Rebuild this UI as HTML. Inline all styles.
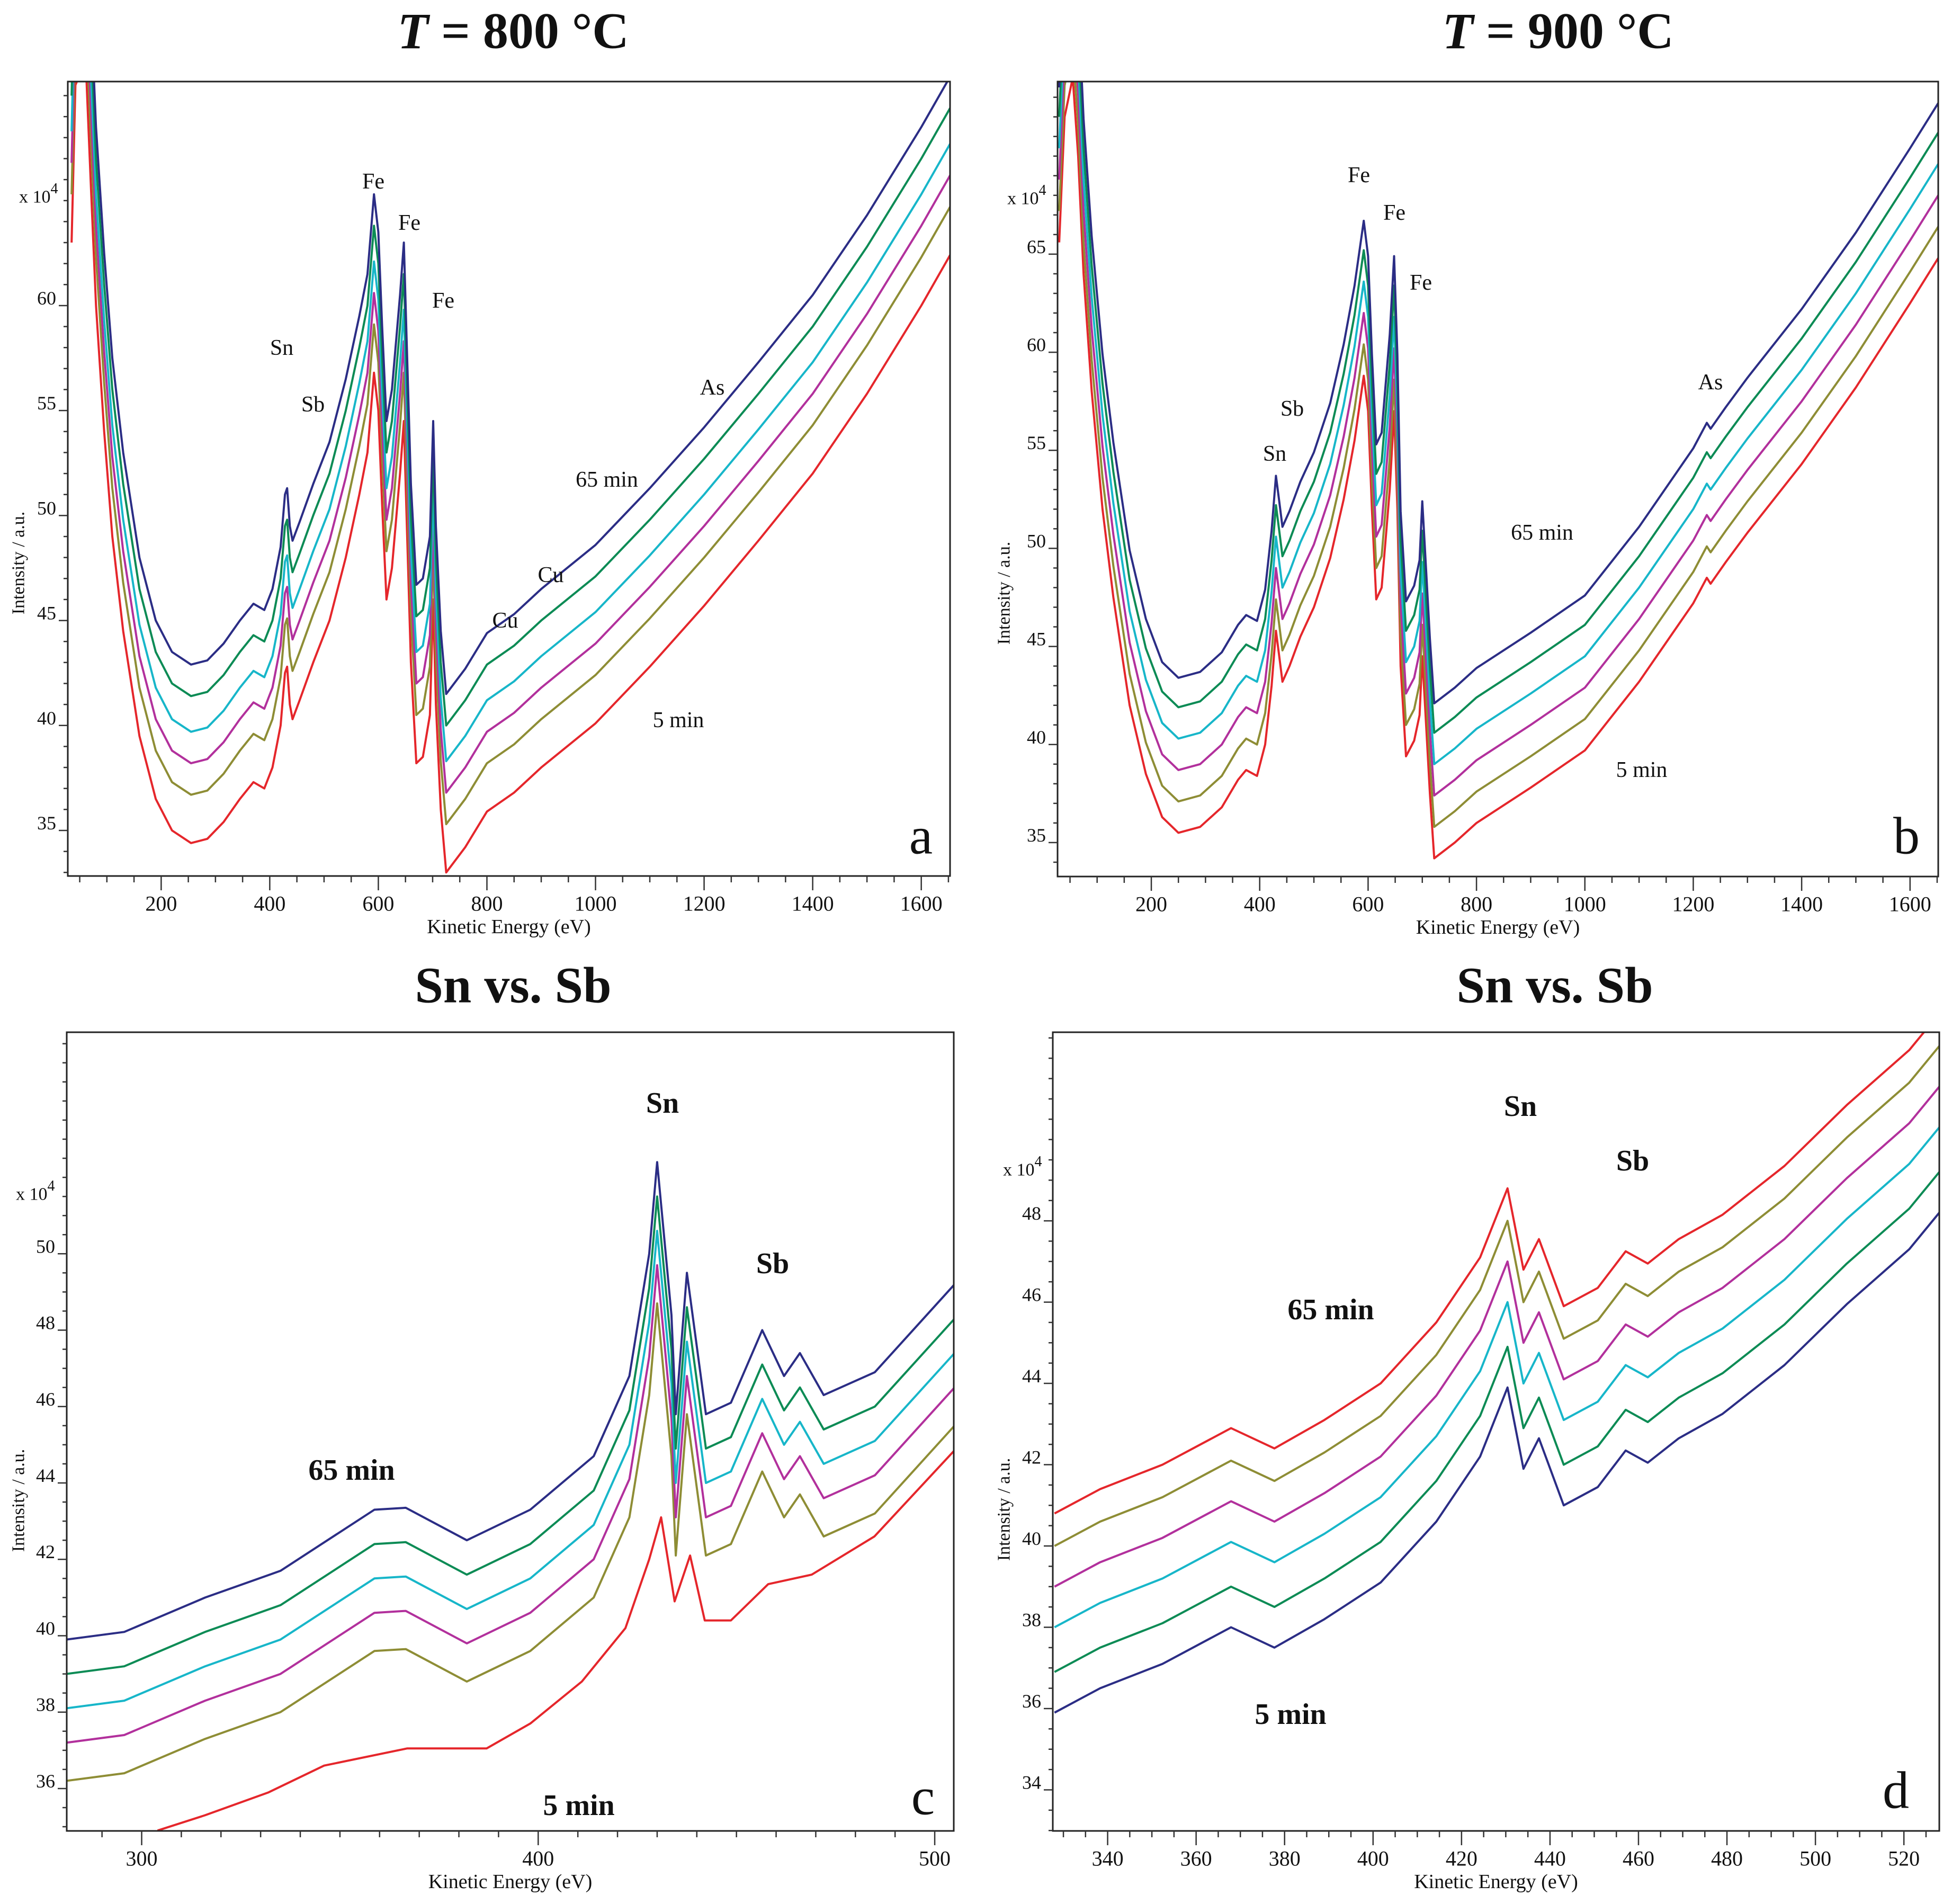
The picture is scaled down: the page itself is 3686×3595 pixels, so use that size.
<!DOCTYPE html>
<html><head><meta charset="utf-8"><style>
html,body{margin:0;padding:0;background:#fff;}
svg{display:block;}
text{font-family:"Liberation Serif",serif;fill:#111;}
</style></head>
<body>
<svg id="fig" xmlns="http://www.w3.org/2000/svg" width="3686" height="3595" viewBox="0 0 3686 3595">
<rect width="3686" height="3595" fill="#fff"/>
<g id="root"></g>
</svg>
<script>
// ===== DATA =====
// Panel a (T = 800 °C): 5 min curve (eV, intensity x10^4)
const aEnergy = [35,42,50,62,70,80,95,110,130,160,190,220,255,285,315,345,370,390,405,420,428,432,437,442,455,480,510,540,565,580,592,600,607,615,625,640,647,652,660,670,682,695,701,706,715,725,760,800,850,900,1000,1100,1200,1300,1400,1500,1600,1653];
const aBase = [63,70.5,71,71,66,60,54,49,44.5,39.5,36.5,35,34.4,34.6,35.4,36.5,37.3,37,38,40,42.5,42.8,41,40.3,41.2,43,45,48,51,53,56.8,55,50.5,46,47.5,52,54.5,50,43,38.2,38.5,40.5,46,41,36,33,34.2,35.9,36.8,38,40.1,42.8,45.7,48.8,52,55.8,60,62.4];
const aShifts = [0,2.3,3.8,5.3,7.0,8.5];
const aXTicks = [200,400,600,800,1000,1200,1400,1600];
const aYTicks = [35,40,45,50,55,60];

// Panel b (T = 900 °C): 5 min curve
const bEnergy = [30,40,55,65,75,90,110,130,160,190,220,250,290,330,360,375,395,410,422,430,436,442,455,475,500,530,555,575,592,600,607,615,625,640,648,654,660,670,685,695,700,705,714,722,760,800,900,1000,1100,1200,1225,1232,1260,1300,1400,1500,1600,1652];
const bBase = [65.6,72,74,70,64,58,52,47.5,42,38.5,36.3,35.5,35.8,36.8,38.2,38.7,38.4,40,43,45.8,44.5,43.2,44,45.5,47,49.5,52.5,55.5,58.8,57,52,47.4,48,53,57,52,44,39.4,40.2,41.5,44.5,42,37.5,34.2,35,36,37.8,39.7,43.2,47.2,48.5,48.2,49.3,50.8,54.3,58.2,62.5,64.8];
const bShifts = [0,1.6,3.2,4.8,6.4,7.9];
const bXTicks = [200,400,600,800,1000,1200,1400,1600];
const bYTicks = [35,40,45,50,55,60,65];

// Panel c (Sn vs. Sb, 800 °C): 65 min curve and 5 min curve
const cEnergy = [281,295.6,316,335,358.7,366.6,382,398,414,423,428,430,433.6,434.7,437.5,442.3,448.6,456.5,462,466,472,484.9,505];
const cTop = [39.9,40.1,41.0,41.7,43.3,43.35,42.5,43.3,44.7,46.8,50,52.4,48.4,45.8,49.5,45.8,46.1,48.0,46.8,47.4,46.3,46.9,49.2];
const cShifts = [0,-0.9,-1.8,-2.7,-3.7];
const cRedEnergy = [304,316,332,346,367,387,398,411,422,428,431,434.4,438.3,442,448.6,458,469,484.8,505.4];
const cRed = [34.9,35.3,35.9,36.6,37.05,37.05,37.7,38.8,40.2,42,43.1,40.9,42.1,40.4,40.4,41.35,41.6,42.6,44.9];
const cXTicks = [300,400,500];
const cYTicks = [36,38,40,42,44,46,48,50];

// Panel d (Sn vs. Sb, 900 °C): 5 min curve (bottom)
const dEnergy = [328,338.3,352.4,367.9,377.7,389,401.7,414.3,424.2,430.4,434,437.5,443.1,450.8,457.1,462.1,469.1,479,493,507.1,521.2,528];
const dBase = [35.9,36.5,37.1,38.0,37.5,38.2,39.1,40.6,42.2,43.9,41.9,42.65,41.0,41.45,42.35,42.05,42.65,43.25,44.45,45.95,47.3,48.2];
const dShifts = [0,1.0,2.1,3.1,4.1,4.9];
const dXTicks = [340,360,380,400,420,440,460,480,500,520];
const dYTicks = [34,36,38,40,42,44,46,48];

// ===== LAYOUT =====
const NS = "http://www.w3.org/2000/svg";
const root = document.getElementById('root');
const C = {navy:"#2b2d85", green:"#0c8b55", cyan:"#17b6c9", magenta:"#b2309c", olive:"#8e8d35", red:"#e5262b"};

function el(tag, attrs, parent){
  const e = document.createElementNS(NS, tag);
  for (const k in attrs) e.setAttribute(k, attrs[k]);
  (parent||root).appendChild(e);
  return e;
}
function txt(parent, x, y, s, size, opts){
  opts = opts||{};
  const t = el('text', {x:x, y:y, 'font-size':size, 'text-anchor':opts.anchor||'middle', 'dominant-baseline':'central'}, parent);
  if (opts.weight) t.setAttribute('font-weight', opts.weight);
  if (opts.transform) t.setAttribute('transform', opts.transform);
  t.textContent = s;
  return t;
}

function panel(cfg){
  const g = el('g', {});
  
  
  const [x0,y0,x1,y1] = cfg.box;
  const sx = v => x0 + (v - cfg.xr[0])/(cfg.xr[1]-cfg.xr[0])*(x1-x0);
  const sy = v => y1 - (v - cfg.yr[0])/(cfg.yr[1]-cfg.yr[0])*(y1-y0);
  const cid = 'clip-'+cfg.id;
  const cp = el('clipPath', {id:cid}, g);
  el('rect', {x:x0, y:y0, width:x1-x0, height:y1-y0}, cp);

  // series
  const sg = el('g', {'clip-path':'url(#'+cid+')'}, g);
  
  
  cfg.series.forEach(s => {
    let d = '';
    s.xs.forEach((xv,i) => { d += (i?'L':'M') + sx(xv).toFixed(1) + ',' + sy(s.ys[i] + s.shift).toFixed(1); });
    const p = el('path', {d:d, fill:'none', stroke:s.color, 'stroke-width':4, 'stroke-linejoin':'round'}, sg);
    
    
  });

  // frame
  const fr = el('rect', {x:x0, y:y0, width:x1-x0, height:y1-y0, fill:'none', stroke:'#222', 'stroke-width':3}, g);
  
  

  // x ticks
  const xt = el('g', {stroke:'#333', 'stroke-width':2.5}, g);
  
  
  const xmin = Math.ceil(cfg.xr[0]/cfg.xMinor)*cfg.xMinor;
  for (let v = xmin; v <= cfg.xr[1]+1e-6; v += cfg.xMinor){
    const major = cfg.xTicks.indexOf(Math.round(v)) >= 0;
    el('line', {x1:sx(v), x2:sx(v), y1:y1, y2:y1+(major?27:12)}, xt);
  }
  cfg.xTicks.forEach(v => {
    const t = txt(g, sx(v), y1+52, String(v), 40);
    
    
  });
  const xl = txt(g, (x0+x1)/2, y1+96, 'Kinetic Energy (eV)', 38);
  
  

  // y ticks
  const yt = el('g', {stroke:'#333', 'stroke-width':2.5}, g);
  
  
  const ymin = Math.ceil(cfg.yr[0]/cfg.yMinor)*cfg.yMinor;
  for (let v = ymin; v <= cfg.yr[1]+1e-6; v += cfg.yMinor){
    const major = cfg.yTicks.some(t => Math.abs(t - v) < 1e-6);
    el('line', {x1:x0, x2:x0-(major?17:8), y1:sy(v), y2:sy(v)}, yt);
  }
  cfg.yTicks.forEach(v => {
    const t = txt(g, x0-22, sy(v)-14, String(v), 36, {anchor:'end'});
    
    
  });
  const mult = el('text', {x:cfg.mult[0], y:cfg.mult[1], 'font-size':34, 'dominant-baseline':'central'}, g);
  
  
  mult.innerHTML = 'x 10<tspan dy="-16" font-size="28">4</tspan>';
  const yl = txt(g, cfg.ylab[0], cfg.ylab[1], 'Intensity / a.u.', 34, {transform:'rotate(-90 '+cfg.ylab[0]+' '+cfg.ylab[1]+')'});
  
  

  // title
  const tt = el('text', {x:cfg.title.x, y:cfg.title.y, 'font-size':96, 'font-weight':'bold', 'text-anchor':'middle', 'dominant-baseline':'central'}, g);
  
  
  tt.innerHTML = cfg.title.html;

  // annotations
  cfg.labels.forEach(l => {
    const t = txt(g, l[0], l[1], l[2], l[3], {weight:l[4]});
    
    
  });
  const pl = txt(g, cfg.letter[0], cfg.letter[1], cfg.letter[2], 100);
  
  
}

const ord6 = [['red','5-min'],['olive','17-min'],['magenta','29-min'],['cyan','41-min'],['green','53-min'],['navy','65-min']];

panel({id:'panel-a', name:'panel-a-800C', box:[128,154,1794,1654], xr:[28,1653], yr:[32.83,70.67],
  xTicks:aXTicks, yTicks:aYTicks, xMinor:50, yMinor:1,
  series: ord6.map((o,i)=>({xs:aEnergy, ys:aBase, shift:aShifts[i], color:C[o[0]], name:'a-series-'+o[1]})),
  mult:[36,372], ylab:[35,1063],
  title:{x:969, y:58, html:'<tspan font-style="italic">T</tspan> = 800 °C'},
  labels:[[705,343,'Fe',42],[773,421,'Fe',42],[837,568,'Fe',42],[532,657,'Sn',42],[591,764,'Sb',42],[1345,732,'As',42],[1146,906,'65 min',42],[1040,1086,'Cu',42],[954,1172,'Cu',42],[1281,1360,'5 min',42]],
  letter:[1739,1578,'a']});

panel({id:'panel-b', name:'panel-b-900C', box:[1997,154,3660,1655], xr:[27,1652], yr:[33.27,73.8],
  xTicks:bXTicks, yTicks:bYTicks, xMinor:50, yMinor:1,
  series: ord6.map((o,i)=>({xs:bEnergy, ys:bBase, shift:bShifts[i], color:C[o[0]], name:'b-series-'+o[1]})),
  mult:[1902,375], ylab:[1896,1120],
  title:{x:2942, y:58, html:'<tspan font-style="italic">T</tspan> = 900 °C'},
  labels:[[2566,331,'Fe',42],[2633,402,'Fe',42],[2683,534,'Fe',42],[2440,772,'Sb',42],[2407,857,'Sn',42],[3230,722,'As',42],[2912,1006,'65 min',42],[3100,1454,'5 min',42]],
  letter:[3600,1578,'b']});

const ord5c = [['navy','65-min'],['green','53-min'],['cyan','41-min'],['magenta','29-min'],['olive','17-min']];
const cSeries = ord5c.map((o,i)=>({xs:cEnergy, ys:cTop, shift:cShifts[i], color:C[o[0]], name:'c-series-'+o[1]}));
cSeries.push({xs:cRedEnergy, ys:cRed, shift:0, color:C.red, name:'c-series-5-min'});
panel({id:'panel-c', name:'panel-c-sn-vs-sb', box:[126,1949,1801,3457], xr:[281.1,504.8], yr:[34.89,55.8],
  xTicks:cXTicks, yTicks:cYTicks, xMinor:10, yMinor:0.5,
  series: cSeries.reverse(),
  mult:[30,2255], ylab:[35,2833],
  title:{x:969, y:1860, html:'Sn vs. Sb'},
  labels:[[1251,2083,'Sn',56,'bold'],[1459,2386,'Sb',56,'bold'],[664,2776,'65 min',56,'bold'],[1093,3409,'5 min',56,'bold']],
  letter:[1743,3392,'c']});

const ord6d = [['navy','5-min'],['green','17-min'],['cyan','29-min'],['magenta','41-min'],['olive','53-min'],['red','65-min']];
panel({id:'panel-d', name:'panel-d-sn-vs-sb', box:[1988,1949,3662,3457], xr:[327.6,528], yr:[32.99,52.64],
  xTicks:dXTicks, yTicks:dYTicks, xMinor:5, yMinor:0.5,
  series: ord6d.map((o,i)=>({xs:dEnergy, ys:dBase, shift:dShifts[i], color:C[o[0]], name:'d-series-'+o[1]})),
  mult:[1894,2209], ylab:[1896,2850],
  title:{x:2936, y:1860, html:'Sn vs. Sb'},
  labels:[[2871,2089,'Sn',56,'bold'],[3083,2192,'Sb',56,'bold'],[2513,2473,'65 min',56,'bold'],[2437,3237,'5 min',56,'bold']],
  letter:[3580,3380,'d']});
</script>
</body></html>
